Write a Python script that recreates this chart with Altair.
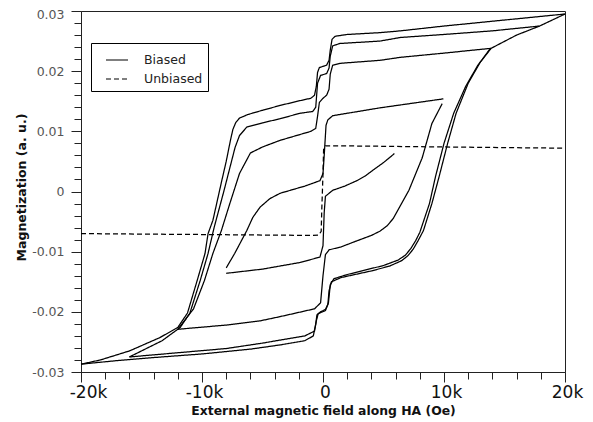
import altair as alt
import pandas as pd

# H in kOe, M in 1e-3 a.u.
UA_H = [20, 14, 10, 6.4, 4.7, 2.0, 1.0, 0.75, 0.6, 0.5, 0.3, 0.0, -0.3, -0.45, -0.55, -0.7, -1.0, -1.9, -3.55, -5.0, -6.2, -6.9, -7.2, -7.45, -7.65, -8.0, -8.4, -9.1, -9.5, -9.75, -10.4, -11.2, -12.0, -13.5, -16.0, -18.4, -20.0]
UA_M = [29.5, 28.3, 27.5, 26.7, 26.4, 26.1, 25.8, 25.3, 23.5, 21.8, 21.0, 20.8, 20.6, 19.8, 17.5, 16.0, 15.5, 15.1, 14.3, 13.5, 12.8, 12.2, 11.5, 10.3, 8.5, 5.0, 1.5, -4.8, -7.0, -10.3, -14.8, -20.2, -22.6, -24.3, -26.5, -28.0, -28.7]

LA_H = [-20, -17, -14, -10, -6, -3.55, -1.5, -0.8, -0.6, -0.5, -0.2, 0.2, 0.4, 0.5, 0.7, 1.5, 4.0, 5.5, 6.5, 7.0, 7.45, 7.85, 8.3, 9.0, 9.6, 10.3, 11.0, 12.0, 13.0, 13.8, 16.0, 17.9, 20.0]
LA_M = [-28.7, -28.1, -27.6, -27.0, -26.2, -25.5, -24.8, -24.0, -22.0, -20.5, -20.0, -19.6, -18.8, -16.5, -15.0, -14.3, -13.2, -12.4, -11.5, -10.7, -9.6, -8.2, -6.5, -2.0, 2.5, 8.0, 13.0, 18.0, 21.5, 23.7, 26.0, 27.5, 29.5]

UB_H = [17.9, 14, 10, 6.4, 4.7, 1.4, 0.8, 0.6, 0.5, 0.3, -0.2, -0.45, -0.6, -0.85, -1.9, -3.55, -5.0, -6.3, -6.9, -7.27, -8.2, -9.0, -9.5, -10.15, -11.0, -11.8, -13.3, -16.0]
UB_M = [27.5, 26.7, 26.1, 25.6, 25.0, 24.6, 24.2, 22.5, 20.5, 19.6, 19.3, 18.0, 14.0, 13.3, 13.0, 12.1, 11.4, 10.7, 9.3, 7.3, 0.0, -6.0, -10.3, -14.8, -20.2, -22.6, -24.8, -27.5]

LB_H = [-16, -12, -8, -5, -3.55, -1.5, -0.7, -0.55, -0.4, 0.2, 0.45, 0.6, 0.9, 2.0, 5.0, 6.2, 6.8, 7.25, 7.65, 8.0, 8.8, 9.3, 10.0, 10.8, 11.8, 12.8, 13.9]
LB_M = [-27.5, -26.8, -26.1, -25.2, -24.7, -24.0, -23.2, -21.5, -20.3, -19.8, -18.5, -15.5, -14.5, -13.8, -12.3, -11.4, -10.6, -9.5, -8.2, -6.8, -2.0, 2.5, 8.0, 13.0, 17.5, 21.0, 23.8]

UC_H = [13.9, 10, 6.4, 4.7, 1.4, 0.8, 0.6, 0.5, 0.3, 0.0, -0.3, -0.45, -0.6, -1.0, -2.7, -3.55, -5.0, -6.0, -6.9, -7.7, -8.4, -9.1, -9.8, -10.7, -12.0]
UC_M = [23.8, 23.0, 22.3, 21.8, 21.3, 21.0, 19.5, 17.0, 16.0, 15.5, 14.8, 12.5, 10.5, 10.0, 9.0, 8.5, 7.4, 6.4, 3.0, -2.0, -6.5, -10.3, -14.8, -19.5, -22.9]

LC_H = [-12.0, -8.0, -5.2, -3.55, -0.7, -0.2, 0.0, 0.2, 0.5, 1.5, 2.8, 4.0, 4.7, 5.3, 5.8, 7.1, 8.2, 9.0, 9.85]
LC_M = [-22.9, -22.2, -21.5, -20.8, -19.5, -18.5, -14.0, -10.5, -9.7, -9.2, -8.2, -7.3, -6.6, -5.7, -4.5, 0.2, 5.6, 11.3, 14.6]

UD_H = [9.95, 4.7, 0.8, 0.4, 0.25, 0.1, 0.0, -0.25, -1.5, -2.7, -3.55, -4.4, -5.2, -5.8, -6.3, -7.3, -8.0]
UD_M = [15.4, 13.9, 12.6, 11.9, 11.0, 6.0, 3.0, 1.8, 0.9, 0.2, -0.3, -1.2, -2.6, -4.3, -6.5, -10.3, -12.7]

LD_H = [-8.0, -5.0, -1.9, -0.25, 0.0, 0.1, 0.2, 0.8, 1.8, 2.8, 3.5, 4.1, 5.0, 5.9]
LD_M = [-13.6, -12.9, -11.8, -10.9, -9.0, -3.5, -0.8, 0.2, 0.9, 1.8, 2.6, 3.5, 4.8, 6.3]

UN_H = [-20, -10, -1.0, -0.35, -0.15, -0.1, 0.0, 0.05, 0.2, 1.0, 10, 20]
UN_M = [-7.0, -7.15, -7.3, -7.25, -6.6, -3.0, 3.0, 7.0, 7.6, 7.6, 7.4, 7.2]

branches = [
    ("UA", "Biased", UA_H, UA_M), ("LA", "Biased", LA_H, LA_M),
    ("UB", "Biased", UB_H, UB_M), ("LB", "Biased", LB_H, LB_M),
    ("UC", "Biased", UC_H, UC_M), ("LC", "Biased", LC_H, LC_M),
    ("UD", "Biased", UD_H, UD_M), ("LD", "Biased", LD_H, LD_M),
    ("UN", "Unbiased", UN_H, UN_M),
]
rows = []
for name, kind, hs, ms in branches:
    for i, (h, m) in enumerate(zip(hs, ms)):
        rows.append({"H": h * 1000, "M": m / 1000, "branch": name, "kind": kind, "order": i})
df = pd.DataFrame(rows)

x_ticks = list(range(-20000, 20001, 2000))
y_ticks = [round(-0.03 + 0.002 * i, 3) for i in range(31)]

x_axis = alt.Axis(
    values=x_ticks,
    labelExpr="datum.value % 10000 == 0 ? (datum.value == 0 ? '0' : (datum.value < 0 ? '-' : '') + format(abs(datum.value)/1000, 'd') + 'k') : ''",
    tickSize={"condition": {"test": "datum.value % 10000 == 0", "value": 10}, "value": 7},
    labelOffset={"condition": {"test": "datum.value == -20000", "value": 7}, "value": 2},
    labelFlush=False,
    labelFontSize=17, labelFont="DejaVu Sans", labelColor="#111", labelPadding=2,
    title="External magnetic field along HA (Oe)", titleFont="DejaVu Sans", titleFontSize=12.4,
    titleFontWeight="bold", titleColor="#111", titleY=42, titleBaseline="alphabetic",
    grid=False, domainColor="#222", tickColor="#222", labelOverlap=False,
)
y_axis = alt.Axis(
    values=y_ticks,
    labelExpr="abs(datum.value*100 - round(datum.value*100)) < 0.001 ? (abs(datum.value) < 0.0001 ? '0' : (datum.value < 0 ? '-' : '') + format(abs(datum.value), '.2f')) : ''",
    tickSize={"condition": {"test": "abs(datum.value*100 - round(datum.value*100)) < 0.001", "value": 10}, "value": 7},
    labelOffset={"condition": {"test": "datum.value > 0.029", "value": 3}, "value": 0},
    labelFlush=False,
    labelFontSize=12.5, labelFont="DejaVu Sans", labelColor="#555", labelPadding=7,
    title="Magnetization (a. u.)", titleFont="DejaVu Sans", titleFontSize=12.5,
    titleFontWeight="bold", titleColor="#111", titleX=-56, titleY=176, titleBaseline="alphabetic",
    grid=False, domainColor="#222", tickColor="#222", labelOverlap=False,
)

chart = alt.Chart(df).mark_line(color="black", strokeWidth=1.25).encode(
    x=alt.X("H:Q", scale=alt.Scale(domain=[-20000, 20000], nice=False, zero=False), axis=x_axis),
    y=alt.Y("M:Q", scale=alt.Scale(domain=[-0.03, 0.03], nice=False, zero=False), axis=y_axis),
    detail="branch:N",
    order="order:Q",
    strokeDash=alt.StrokeDash(
        "kind:N",
        scale=alt.Scale(domain=["Biased", "Unbiased"], range=[[1, 0], [5, 3]]),
        legend=alt.Legend(
            title=None, orient="none", legendX=10, legendY=32,
            strokeColor="black", fillColor="white", padding=5,
            symbolType="stroke", symbolSize=484, symbolStrokeWidth=1.2,
            symbolStrokeColor="black", symbolOffset=9,
            labelFont="DejaVu Sans", labelFontSize=12.5, labelColor="#222",
            labelOffset=15, rowPadding=-7,
            labelExpr="datum.label + '\u00a0\u00a0\u00a0'",
        ),
    ),
).properties(
    width=484, height=361,
    padding={"left": 73, "top": 3, "right": 20, "bottom": 50},
    autosize=alt.AutoSizeParams(type="none"),
).configure_view(stroke="#222", strokeWidth=1)

chart.save("out.html", embed_options={"renderer": "svg", "actions": False})
